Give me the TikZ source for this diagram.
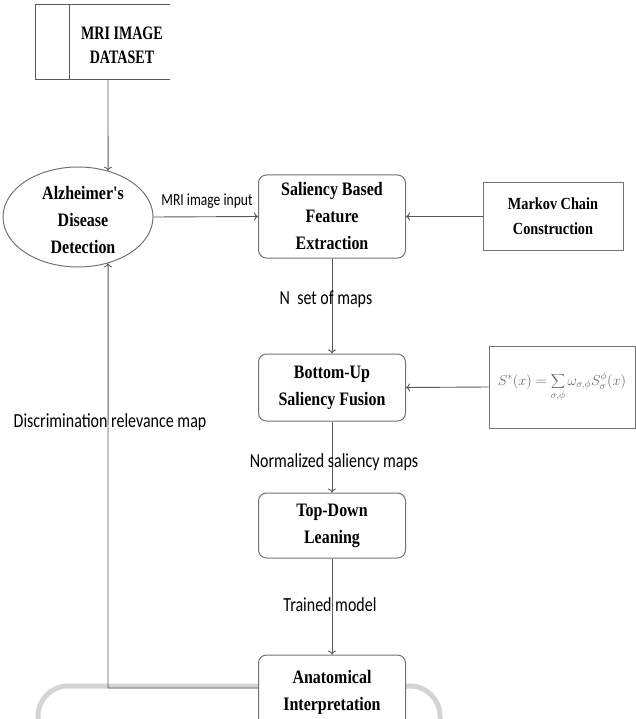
\documentclass[tikz,border=0pt]{standalone}
\usepackage{fontspec}
\setmainfont{Liberation Serif}
\newfontfamily\boxfont{Liberation Serif}[FakeStretch=0.84]
\newfontfamily\dsfont{Liberation Serif}[FakeStretch=0.74]
\newfontfamily\lblfont{Carlito}[FakeStretch=0.8]
\usetikzlibrary{shapes.geometric,arrows.meta}
\begin{document}
\begin{tikzpicture}[x=1pt,y=-1pt,
  line/.style={draw=black!65, line width=0.9pt},
  arr/.style={line, -{To[length=4pt,width=8pt]}},
  frame/.style={draw=black!55, line width=1pt, fill=white, align=center, inner sep=0pt},
  rbox/.style={frame, rounded corners=8pt, minimum width=147pt,
    font=\boxfont\bfseries\fontsize{19}{27}\selectfont},
  sbox/.style={frame},
  lbl/.style={font=\lblfont\fontsize{20}{22}\selectfont, inner sep=0pt},
  slbl/.style={font=\lblfont\fontsize{17}{19}\selectfont, inner sep=0pt}]
\path[use as bounding box, clip] (0,0) rectangle (636,719);

% background watermark frame
\draw[black!17, line width=5pt, rounded corners=30pt] (38,770) -- (38,686) -- (440,686) -- (440,770);

% dataset store
\node[minimum width=134pt, minimum height=74pt, inner sep=0pt] (ds) at (103,42) {};
\draw[line, line width=1.2pt] (ds.north east) -- (ds.north west) -- (ds.south west) -- (ds.south east);
\draw[line, line width=1.2pt] ([xshift=34pt]ds.north west) -- ([xshift=34pt]ds.south west);
\node[font=\dsfont\bfseries\fontsize{19}{24}\selectfont, align=center, inner sep=0pt] (dst) at (122,45) {MRI IMAGE\\DATASET};

% ellipse
\node[ellipse, draw=black!55, line width=1pt, minimum width=150pt, minimum height=100pt, inner sep=0pt] (ad) at (78,217) {};
\node[font=\boxfont\bfseries\fontsize{19}{27}\selectfont, align=center, inner sep=0pt] (adt) at (83,220) {Alzheimer's\\Disease\\Detection};

% process boxes
\node[rbox, minimum height=83pt] (sal) at (332,216.5) {Saliency Based\\Feature\\Extraction};
\node[sbox, minimum width=140pt, minimum height=67pt, font=\boxfont\bfseries\fontsize{17}{25}\selectfont] (mkv) at (553,216.5) {Markov Chain\\Construction};
\node[rbox, minimum height=67pt] (bu) at (332,387.5) {Bottom-Up\\Saliency Fusion};
\node[sbox, minimum width=146pt, minimum height=82pt, text=black!60, font=\fontsize{14}{16}\selectfont] (fm) at (562,387) {$\displaystyle S^{*}(x)=\sum_{\sigma,\phi}\omega_{\sigma,\phi}S^{\phi}_{\sigma}(x)$};
\node[rbox, minimum height=65pt] (td) at (332,525.5) {Top-Down\\Leaning};
\node[rbox, minimum height=75pt] (an) at (332,692.5) {Anatomical\\Interpretation};

% connectors
\coordinate (fb) at (108,688);
\draw[arr] (ds.south -| fb) -- (ad.57);
\draw[arr] (ad.east) -- (sal.west);
\draw[arr] (mkv.west) -- (sal.east);
\draw[arr] (sal.south) -- (bu.north);
\draw[arr] (fm.west) -- (bu.east);
\draw[arr] (bu.south) -- (td.north);
\draw[arr] (td.south) -- (an.north);
\draw[arr] (an.west |- fb) -- (fb) -- (ad.-57);

% labels
\node[slbl] (l1) at (207,201) {MRI image input};
\node[lbl] (l2) at (326,299) {N\ \ set of maps};
\node[lbl] (l3) at (334,462) {Normalized saliency maps};
\node[lbl] (l4) at (330,605) {Trained model};
\node[lbl] (l5) at (110,422) {Discrimination relevance map};
\end{tikzpicture}
\end{document}
